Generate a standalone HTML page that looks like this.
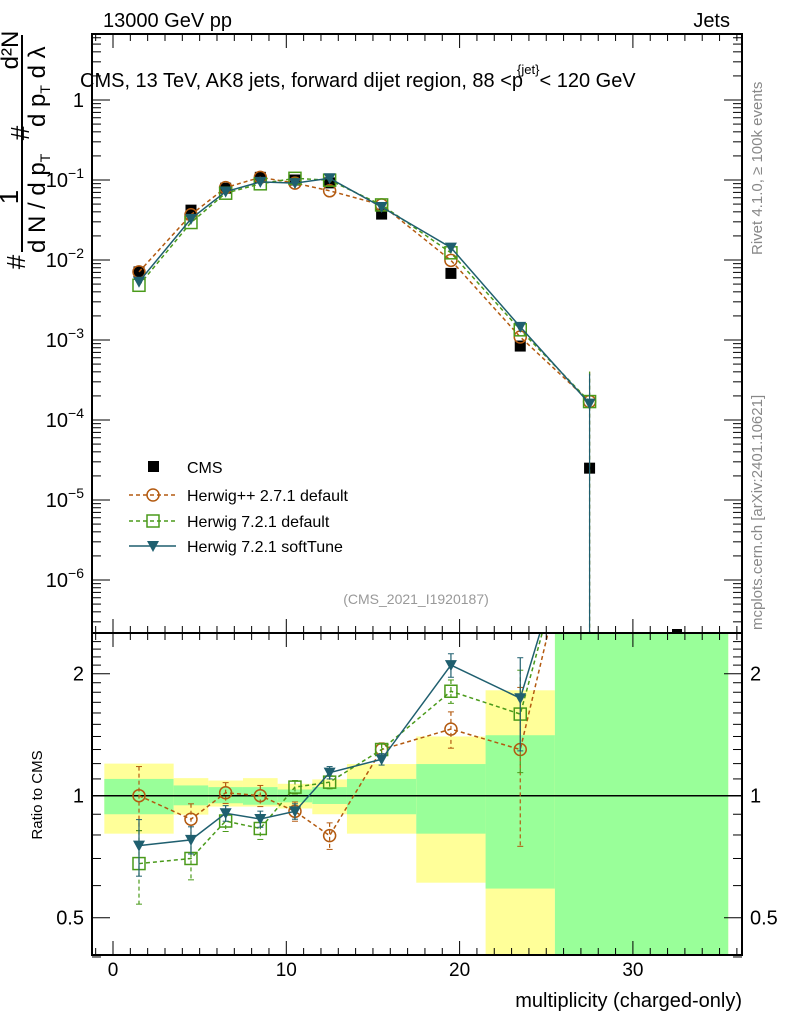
<!DOCTYPE html>
<html><head><meta charset="utf-8"><style>
html,body{margin:0;padding:0;background:#fff;overflow:hidden;width:786px;height:1024px;}
svg{display:block;font-family:"Liberation Sans",sans-serif;overflow:hidden;}
</style></head><body>
<svg id="c" width="786" height="1024" xmlns="http://www.w3.org/2000/svg"></svg>
<script>
const binCenters=[1.5,4.5,6.5,8.5,10.5,12.5,15.5,19.5,23.5,27.5];
const binEdges=[-0.5,3.5,5.5,7.5,9.5,11.5,13.5,17.5,21.5,25.5,35.5];
const cmsVals=[0.0071,0.042,0.079,0.108,0.10,0.092,0.0375,0.0068,0.00084,2.5e-5];
const hppVals=[0.0071,0.0368,0.0803,0.108,0.0915,0.0733,0.0488,0.0099,0.00109,1.7e-4];
const h72Vals=[0.00483,0.0294,0.0684,0.0896,0.105,0.0994,0.0488,0.0123,0.00134,1.7e-4];
const softVals=[0.00535,0.0327,0.0715,0.0946,0.0915,0.105,0.046,0.0143,0.00146,1.6e-4];
const hppRatio=[1.0,0.875,1.017,1.0,0.915,0.797,1.30,1.46,1.30,6.8];
const h72Ratio=[0.68,0.70,0.866,0.83,1.05,1.08,1.30,1.81,1.59,6.8];
const softRatio=[0.753,0.778,0.905,0.876,0.915,1.14,1.23,2.10,1.74,6.4];
const hppErr=[0.18,0.08,0.06,0.06,0.05,0.06,0.05,0.15,0.55,0];
const h72Err=[0.14,0.08,0.05,0.05,0.04,0.04,0.04,0.12,0.45,0];
const softErr=[0.12,0.06,0.04,0.04,0.04,0.04,0.04,0.14,0.45,0];
const yellowHi=[1.20,1.105,1.09,1.105,1.07,1.097,1.197,1.40,1.82,10];
const yellowLo=[0.806,0.898,0.94,0.94,0.93,0.90,0.806,0.61,0.3,0.1];
const greenHi=[1.10,1.06,1.05,1.05,1.036,1.05,1.10,1.197,1.41,10];
const greenLo=[0.90,0.947,0.958,0.95,0.963,0.954,0.90,0.806,0.59,0.1];
const xTicks=[0,10,20,30];
const mainTicks=[0,-1,-2,-3,-4,-5,-6];
const ratioTicks=[2,1,0.5];

const svg=document.getElementById('c');
const NS='http://www.w3.org/2000/svg';
const L=92,R=742,T=34,M=633,B=955;
const X=v=>113+(v)*17.33;
const Y=v=>100-80*Math.log10(v);
const RY=v=>795.7-122*Math.log2(v);
function el(tag,attrs,parent){const e=document.createElementNS(NS,tag);for(const k in attrs)e.setAttribute(k,attrs[k]);(parent||svg).appendChild(e);return e;}
const defs=el('defs',{});
const cp1=el('clipPath',{id:'cm'},defs);el('rect',{x:L,y:T,width:R-L,height:M-T},cp1);
const cp2=el('clipPath',{id:'cr'},defs);el('rect',{x:L,y:M,width:R-L,height:B-M},cp2);

// ratio bands
const gb=el('g',{'clip-path':'url(#cr)'});

for(let i=0;i<binCenters.length;i++){
 const x0=X(binEdges[i]),x1=X(binEdges[i+1]);
 const yh=Math.max(RY(yellowHi[i]),M),yl=Math.min(RY(yellowLo[i]),B);
 const gh=Math.max(RY(greenHi[i]),M),gl=Math.min(RY(greenLo[i]),B);
 const y=el('rect',{x:x0,y:yh,width:x1-x0,height:yl-yh,fill:'#ffff99'},gb);
 
 
 const g=el('rect',{x:x0,y:gh,width:x1-x0,height:gl-gh,fill:'#99ff99'},gb);
 
 
}
el('line',{x1:L,x2:R,y1:RY(1),y2:RY(1),stroke:'#000','stroke-width':1.5});

const series=[
 {name:'herwigpp-271',vals:hppVals,ratio:hppRatio,err:hppErr,col:'#b35a10',dash:'4,3',mk:'circle'},
 {name:'herwig-721-default',vals:h72Vals,ratio:h72Ratio,err:h72Err,col:'#4a9a1a',dash:'4,3',mk:'square'},
 {name:'herwig-721-softtune',vals:softVals,ratio:softRatio,err:softErr,col:'#1f5f6f',dash:'',mk:'tri'}
];
function marker(g,mk,x,y,col){
 if(mk==='circle')return el('circle',{cx:x,cy:y,r:6,fill:'none',stroke:col,'stroke-width':1.5},g);
 if(mk==='square')return el('rect',{x:x-6,y:y-6,width:12,height:12,fill:'none',stroke:col,'stroke-width':1.5},g);
 return el('path',{d:`M${x-6},${y-5}L${x+6},${y-5}L${x},${y+6}Z`,fill:col},g);
}
// main panel
const gm=el('g',{'clip-path':'url(#cm)'});
const cg=el('g',{},gm);


cmsVals.forEach((v,i)=>{
 const r=el('rect',{x:X(binCenters[i])-5.5,y:Y(v)-5.5,width:11,height:11,fill:'#000'},cg);
 
 
});
el('rect',{x:672,y:629,width:10,height:8,fill:'#000'},gm);
series.forEach(s=>{
 const g=el('g',{},gm);
 
 
 el('polyline',{points:s.vals.map((v,i)=>X(binCenters[i])+','+Y(v)).join(' '),fill:'none',stroke:s.col,'stroke-width':1.5,'stroke-dasharray':s.dash},g);
 el('line',{x1:X(27.5),x2:X(27.5),y1:Y(s.vals[9])-30,y2:M,stroke:s.col,'stroke-width':1.2,'stroke-dasharray':s.dash},g);
 s.vals.forEach((v,i)=>{const m=marker(g,s.mk,X(binCenters[i]),Y(v),s.col);
  
  });
});
// ratio panel series
const gr=el('g',{'clip-path':'url(#cr)'});
series.forEach(s=>{
 const g=el('g',{},gr);
 
 
 el('polyline',{points:s.ratio.map((v,i)=>X(binCenters[i])+','+RY(v)).join(' '),fill:'none',stroke:s.col,'stroke-width':1.5,'stroke-dasharray':s.dash},g);
 s.ratio.forEach((v,i)=>{
  const x=X(binCenters[i]);
  if(s.err[i]>0){
   el('line',{x1:x,x2:x,y1:RY(v+s.err[i]),y2:RY(Math.max(v-s.err[i],0.3)),stroke:s.col,'stroke-width':1.2,'stroke-dasharray':s.dash||'none'},g);
   el('line',{x1:x-3,x2:x+3,y1:RY(v+s.err[i]),y2:RY(v+s.err[i]),stroke:s.col},g);
   el('line',{x1:x-3,x2:x+3,y1:RY(Math.max(v-s.err[i],0.3)),y2:RY(Math.max(v-s.err[i],0.3)),stroke:s.col},g);
  }
  const m=marker(g,s.mk,x,RY(v),s.col);
  
  
 });
});
// frames
const f1=el('rect',{x:L,y:T,width:R-L,height:M-T,fill:'none',stroke:'#000','stroke-width':2});

const f2=el('rect',{x:L,y:M,width:R-L,height:B-M,fill:'none',stroke:'#000','stroke-width':2});

// x ticks
for(let v=-1;v<=36;v++){
 const x=X(v),big=v%10===0,len=big?14:7;
 [[T,1],[M,-1],[M,1],[B,-1]].forEach(([y0,d])=>el('line',{x1:x,x2:x,y1:y0,y2:y0+d*len,stroke:'#000'}));
}
xTicks.forEach(v=>{const t=el('text',{x:X(v),y:976,'font-size':19,'text-anchor':'middle'});t.textContent=v;
 });
// main y ticks
for(let e=1;e>=-7;e--){for(let k=1;k<10;k++){const v=k*Math.pow(10,e);const y=Y(v);if(y<T||y>M)continue;
 const len=k===1?18:9;el('line',{x1:L,x2:L+len,y1:y,y2:y,stroke:'#000'});el('line',{x1:R,x2:R-len,y1:y,y2:y,stroke:'#000'});}}
mainTicks.forEach(e=>{const t=el('text',{x:84,y:Y(Math.pow(10,e))+7,'font-size':20,'text-anchor':'end'});
 
 if(e===0)t.textContent='1';else{t.textContent='10';const s=el('tspan',{dy:-9,'font-size':14},t);s.textContent=String(e).replace('-','−');}});
// ratio y ticks
[0.4,0.5,0.6,0.7,0.8,0.9,1,1.1,1.2,1.3,1.4,1.5,1.6,1.7,1.8,1.9,2,2.1,2.2,2.3,2.4].forEach(v=>{const y=RY(v);const len=(v===0.5||v===1||v===2)?18:9;
 el('line',{x1:L,x2:L+len,y1:y,y2:y,stroke:'#000'});el('line',{x1:R,x2:R-len,y1:y,y2:y,stroke:'#000'});});
ratioTicks.forEach(v=>{[[84,'end'],[750,'start']].forEach(([x,a])=>{const t=el('text',{x:x,y:RY(v)+7,'font-size':20,'text-anchor':a});t.textContent=v;
 });});
// texts
function txt(s,attrs,name){const t=el('text',attrs);t.textContent=s;return t;}
txt('13000 GeV pp',{x:103,y:27,'font-size':20},'beam-label');
txt('Jets',{x:730,y:27,'font-size':20,'text-anchor':'end'},'process-label');
const tt=txt('CMS, 13 TeV, AK8 jets, forward dijet region, 88 <p',{x:80,y:87,'font-size':20},'plot-title');
const ts=el('tspan',{dy:-13,dx:-6,'font-size':13},tt);ts.textContent='{jet';
const ts3=el('tspan',{'font-size':13},tt);ts3.textContent='}';
const ts2=el('tspan',{dy:13,'font-size':20},tt);ts2.textContent='< 120 GeV';
txt('Rivet 4.1.0, ≥ 100k events',{x:0,y:0,'font-size':15,fill:'#888',transform:'translate(762,255) rotate(-90)'},'rivet-version-label');
txt('mcplots.cern.ch [arXiv:2401.10621]',{x:0,y:0,'font-size':15,fill:'#888',transform:'translate(762,630) rotate(-90)'},'mcplots-label');
txt('(CMS_2021_I1920187)',{x:416,y:604,'font-size':14,fill:'#999','text-anchor':'middle'},'analysis-id');
txt('multiplicity (charged-only)',{x:742,y:1007,'font-size':20,'text-anchor':'end'},'x-axis-title');
txt('Ratio to CMS',{x:0,y:0,'font-size':15,'text-anchor':'middle',transform:'translate(42,795) rotate(-90)'},'ratio-y-axis-title');
// main y title
const yt=el('g',{});

function rt(s,x,y,size,anchor){const t=el('text',{x:0,y:0,'font-size':size,'text-anchor':anchor||'middle',transform:`translate(${x},${y}) rotate(-90)`},yt);t.textContent=s;return t;}
el('line',{x1:22,x2:22,y1:35,y2:252,stroke:'#000','stroke-width':2},yt);
rt('1',18,197,26);
rt('d²N',18,50,24);
rt('#',25,262,26);
rt('#',29,133,26);
const d1=rt('d N / d p',45,253,24,'start');const s1=el('tspan',{dy:5,'font-size':14},d1);s1.textContent='T';
const d2=rt('d p',45,127,24,'start');const s2=el('tspan',{dy:5,'font-size':14},d2);s2.textContent='T';const s3=el('tspan',{dy:-5,'font-size':24},d2);s3.textContent=' d λ';
// legend
const lg=el('g',{});

el('rect',{x:148,y:461,width:11,height:11,fill:'#000'},lg);
txt('CMS',{x:187,y:473,'font-size':16},'legend-cms');
[[495,series[0]],[521,series[1]],[546,series[2]]].forEach(([y,s])=>{
 el('line',{x1:129,x2:176,y1:y,y2:y,stroke:s.col,'stroke-width':1.5,'stroke-dasharray':s.dash},lg);
 marker(lg,s.mk,153,y,s.col);
});
txt('Herwig++ 2.7.1 default',{x:187,y:501,'font-size':16},'legend-herwigpp');
txt('Herwig 7.2.1 default',{x:187,y:527,'font-size':16},'legend-herwig721');
txt('Herwig 7.2.1 softTune',{x:187,y:552,'font-size':16},'legend-softtune');
</script>
</body></html>
